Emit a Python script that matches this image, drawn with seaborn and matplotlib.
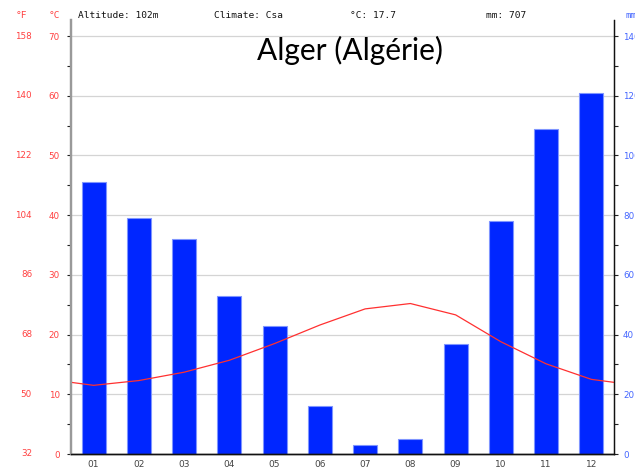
import numpy as np
import matplotlib
matplotlib.use("Agg")
import matplotlib.pyplot as plt
import matplotlib.transforms as mtransforms
import seaborn as sns

# climate data
months = ["01", "02", "03", "04", "05", "06", "07", "08", "09", "10", "11", "12"]
precip_mm = [91, 79, 72, 53, 43, 16, 3, 5, 37, 78, 109, 121]
temp_c = [11.5, 12.3, 13.7, 15.7, 18.5, 21.6, 24.3, 25.2, 23.3, 18.8, 15.1, 12.5]
temp_edge = 12.0  # value of the curve at both chart edges
temp_ticks = [0, 10, 20, 30, 40, 50, 60, 70]
temp_f_labels = ["32", "50", "68", "86", "104", "122", "140", "158"]
precip_ticks = [0, 20, 40, 60, 80, 100, 120, 140]

title = "Alger (Algérie)"
header = ["Altitude: 102m", "Climate: Csa", "°C: 17.7", "mm: 707"]

sns.set_style("white")
plt.rcParams["font.family"] = ["DejaVu Sans"]

red = "#ff4040"
blue_lbl = "#4466ff"
bar_col = "#0026ff"

fig = plt.figure(figsize=(6.35, 4.68), dpi=100)
ax = fig.add_axes([71 / 635, 14 / 468, 543 / 635, 434 / 468])

# precipitation bars
sns.barplot(x=months, y=precip_mm, ax=ax, color=bar_col, width=0.53,
            edgecolor="#7f95ff", linewidth=0.8, saturation=1)
ax.set_xlim(-0.5, 11.5)
top_c = 72.68
ax.set_ylim(0, top_c * 2)
ax.set_axisbelow(True)
ax.grid(axis="y", which="major", color="#d4d4d4", lw=0.9)
ax.set_xlabel("")
ax.set_ylabel("")
ax.set_xticks(np.arange(12))
ax.set_xticklabels(months, fontsize=6.5, color="#444444")
ax.set_xticks(np.arange(-0.5, 12, 1), minor=True)
ax.tick_params(axis="x", which="major", length=0, pad=4)
ax.tick_params(axis="x", which="minor", length=3, width=0.8, color="#333333", direction="out")

# temperature line on twin axis
ax_t = ax.twinx()
xs = [-0.5] + list(range(12)) + [11.5]
ys = [temp_edge] + temp_c + [temp_edge]
sns.lineplot(x=xs, y=ys, ax=ax_t, color="#ff3030", lw=0.9, sort=False)
ax_t.set_ylim(0, top_c)
ax_t.yaxis.tick_left()
ax_t.set_yticks(temp_ticks)
ax_t.set_yticks([5, 15, 25, 35, 45, 55, 65], minor=True)
ax_t.set_yticklabels([str(v) for v in temp_ticks], color=red, fontsize=6.3)
ax_t.tick_params(axis="y", which="major", length=3, width=0.8, color="#222222", direction="out", pad=5)
ax_t.tick_params(axis="y", which="minor", length=3, width=0.8, color="#222222", direction="out")
ax_t.set_ylabel("")

# precipitation ticks on the right (after twinx, which moves them left)
ax.yaxis.tick_right()
ax.set_yticks(precip_ticks)
ax.set_yticks([10, 30, 50, 70, 90, 110, 130], minor=True)
ax.set_yticklabels([str(v) for v in precip_ticks], color=blue_lbl, fontsize=6.3)
ax.tick_params(axis="y", which="major", length=3, width=0.8, color="#222222", direction="out", pad=3.5)
ax.tick_params(axis="y", which="minor", length=3, width=0.8, color="#222222", direction="out")

for a in (ax, ax_t):
    a.spines["top"].set_visible(False)
    a.spines["left"].set_color("#999999")
    a.spines["left"].set_linewidth(1.6)
    a.spines["right"].set_color("#111111")
    a.spines["right"].set_linewidth(0.9)
    a.spines["bottom"].set_color("#111111")
    a.spines["bottom"].set_linewidth(1.0)

# Fahrenheit labels
trans = mtransforms.blended_transform_factory(fig.transFigure, ax_t.transData)
for v, lab in zip(temp_ticks, temp_f_labels):
    fig.text(32 / 635, v, lab, transform=trans, ha="right", va="center",
             color=red, fontsize=6.3)

# header line
hy = 1 - 15 / 468
fig.text(27 / 635, hy, "°F", ha="right", va="center", color=red, fontsize=6.8, family="DejaVu Sans Mono")
fig.text(60 / 635, hy, "°C", ha="right", va="center", color=red, fontsize=6.8, family="DejaVu Sans Mono")
for xp, txt in zip([78, 214, 350, 486], header):
    fig.text(xp / 635, hy, txt, ha="left", va="center", color="#111111",
             fontsize=6.8, family="DejaVu Sans Mono")
fig.text(625 / 635, hy, "mm", ha="left", va="center", color=blue_lbl, fontsize=6.5, family="DejaVu Sans Mono")

fig.text(350 / 635, 1 - 50 / 468, title, ha="center", va="center",
         fontsize=21.5, family="Lato", color="black")

fig.savefig("out.png", dpi=100)
